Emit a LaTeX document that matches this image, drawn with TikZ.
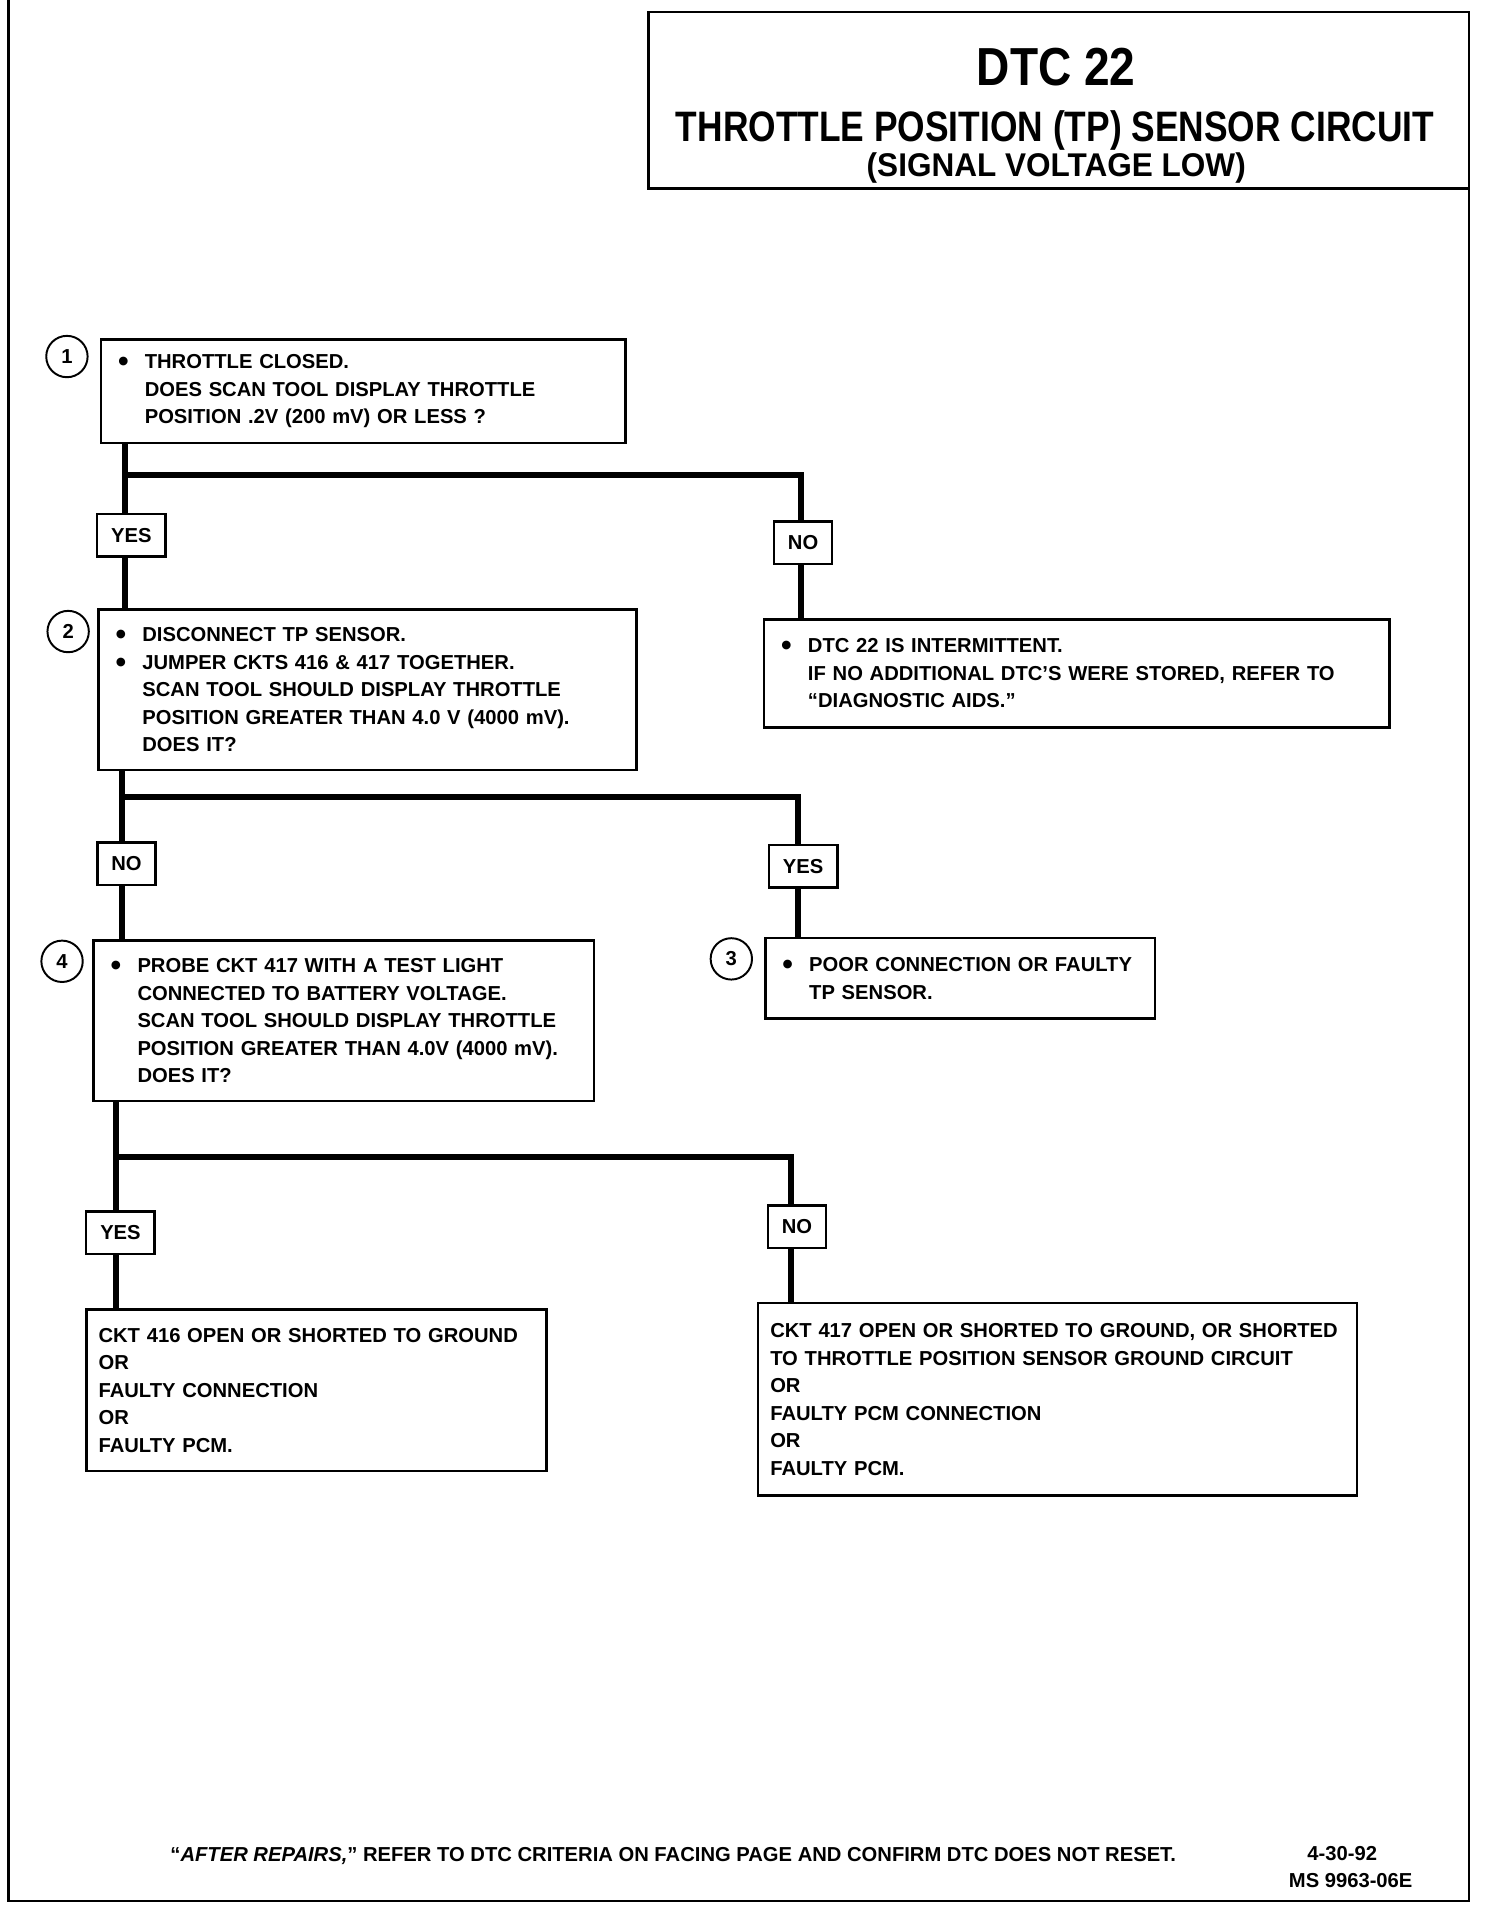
\documentclass[tikz,border=0pt]{standalone}
\usepackage{fontspec}
\usepackage{graphicx}
\setmainfont{Liberation Sans}
\usetikzlibrary{positioning}
\newcommand{\boxfont}{\fontsize{8.3}{11.3}\selectfont\bfseries}
\newcommand{\bl}{\makebox[11pt][l]{\raisebox{-1.2pt}{\scalebox{1.5}{\textbullet}}}}
\newcommand{\ind}{\hspace*{11pt}}
\newcommand{\squeeze}[2]{\scalebox{#1}[1]{#2}}
\tikzset{
  stepbox/.style={draw, line width=1pt, anchor=north west, align=left,
    inner ysep=0pt, inner xsep=7pt, font=\boxfont},
  endbox/.style={stepbox, inner xsep=5pt},
  ans/.style={draw, fill=white, line width=1pt, minimum height=17.5pt,
    inner xsep=5.75pt, inner ysep=0pt, font=\boxfont},
  num/.style={draw, circle, line width=0.8pt, minimum size=17pt,
    inner sep=0pt, font=\boxfont},
  flow/.style={line width=2.5pt},
}
\begin{document}
\begin{tikzpicture}[x=0.5pt,y=-0.5pt]
\useasboundingbox (0,0) rectangle (1223,1568);
% frame and title block
\draw[line width=1pt] (7,0) -- (7,1562) -- (1207,1562) -- (1207,155);
\draw[line width=1pt] (533,10) rectangle (1207,155);
\node[anchor=base, font=\fontsize{22}{22}\selectfont\bfseries] (t1) at (868,70) {\squeeze{0.86}{DTC 22}};
\node[anchor=base, font=\fontsize{17.5}{17.5}\selectfont\bfseries] (t2) at (867,116) {\squeeze{0.83}{THROTTLE POSITION (TP) SENSOR CIRCUIT}};
\node[anchor=base, font=\fontsize{13.5}{13.5}\selectfont\bfseries] (t3) at (868,145) {\squeeze{0.96}{(SIGNAL VOLTAGE LOW)}};

% steps
\node[stepbox, text width=201.5pt, minimum height=42.5pt] (b1) at (82,278)
  {\bl THROTTLE CLOSED.\\ \ind DOES SCAN TOOL DISPLAY THROTTLE\\ \ind POSITION .2V (200 mV) OR LESS ?};
\node[num] (n1) at (55,293) {1};

\node[stepbox, text width=207pt, minimum height=66pt] (b2) at (80,500)
  {\bl DISCONNECT TP SENSOR.\\ \bl JUMPER CKTS 416 \& 417 TOGETHER.\\ \ind SCAN TOOL SHOULD DISPLAY THROTTLE\\
   \ind POSITION GREATER THAN 4.0 V (4000 mV).\\ \ind DOES IT?};
\node[num] (n2) at (56,519) {2};

\node[stepbox, text width=243pt, minimum height=44.5pt] (b5) at (627,508)
  {\bl DTC 22 IS INTERMITTENT.\\ \ind IF NO ADDITIONAL DTC’S WERE STORED, REFER TO\\ \ind “DIAGNOSTIC AIDS.”};

\node[stepbox, text width=191.5pt, minimum height=66pt] (b4) at (76,772)
  {\bl PROBE CKT 417 WITH A TEST LIGHT\\ \ind CONNECTED TO BATTERY VOLTAGE.\\ \ind SCAN TOOL SHOULD DISPLAY THROTTLE\\
   \ind POSITION GREATER THAN 4.0V (4000 mV).\\ \ind DOES IT?};
\node[num] (n4) at (51,790) {4};

\node[stepbox, text width=146pt, minimum height=33pt] (b3) at (628,770)
  {\bl POOR CONNECTION OR FAULTY\\ \ind TP SENSOR.};
\node[num] (n3) at (601,788) {3};

\node[endbox, text width=179pt, minimum height=66.5pt] (b6) at (70,1075)
  {CKT 416 OPEN OR SHORTED TO GROUND\\ OR\\ FAULTY CONNECTION\\ OR\\ FAULTY PCM.};

\node[endbox, text width=236pt, minimum height=79pt] (b7) at (622,1070)
  {CKT 417 OPEN OR SHORTED TO GROUND, OR SHORTED\\ TO THROTTLE POSITION SENSOR GROUND CIRCUIT\\ OR\\
   FAULTY PCM CONNECTION\\ OR\\ FAULTY PCM.};

% branches
\coordinate (s1) at (103,390);
\coordinate (s1r) at (658,390);
\draw[flow] (s1 |- b1.south) -- (s1 |- b2.north);
\draw[flow] (s1) -| (s1r |- b5.north);
\node[ans] (yes1) at (108,440) {YES};
\node[ans] (no1) at (660,446) {NO};

\coordinate (s2) at (100,655);
\coordinate (s2r) at (656,655);
\draw[flow] (s2 |- b2.south) -- (s2 |- b4.north);
\draw[flow] (s2) -| (s2r |- b3.north);
\node[ans] (no2) at (104,710) {NO};
\node[ans] (yes2) at (660,712) {YES};

\coordinate (s3) at (95,951);
\coordinate (s3r) at (650,951);
\draw[flow] (s3 |- b4.south) -- (s3 |- b6.north);
\draw[flow] (s3) -| (s3r |- b7.north);
\node[ans] (yes3) at (99,1013) {YES};
\node[ans] (no3) at (655,1008) {NO};

% footer
\node[anchor=base west, font=\fontsize{8.3}{9}\selectfont\bfseries] (foot) at (133,1530)
  {“\textit{AFTER REPAIRS,}” REFER TO DTC CRITERIA ON FACING PAGE AND CONFIRM DTC DOES NOT RESET.};
\node[anchor=base, font=\boxfont] (date) at (1103,1529) {4-30-92};
\node[anchor=base, font=\boxfont] (ms) at (1110,1551) {MS 9963-06E};
\end{tikzpicture}
\end{document}
